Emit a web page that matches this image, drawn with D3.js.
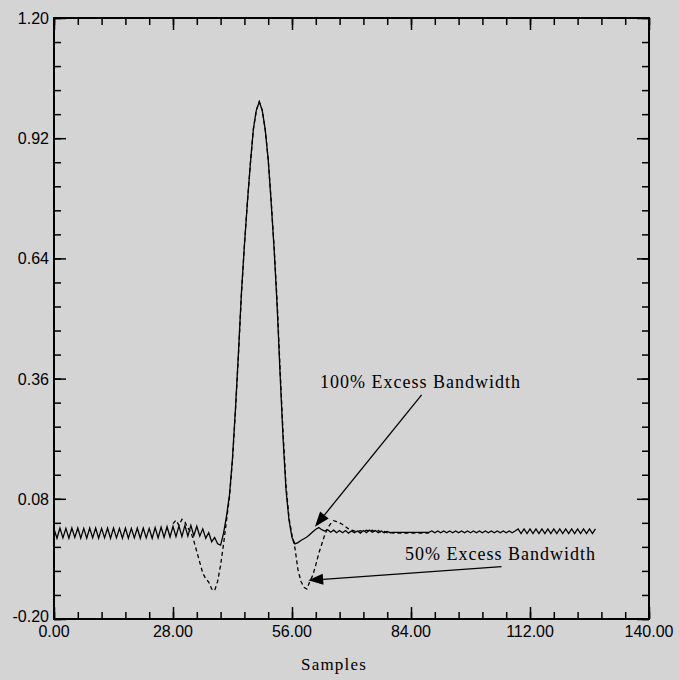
<!DOCTYPE html>
<html>
<head>
<meta charset="utf-8">
<script src="https://cdn.jsdelivr.net/npm/d3@7"></script>
<style>
  body { margin: 0; background: #d4d4d4; }
  svg { display: block; }
</style>
</head>
<body>
<svg id="chart" width="679" height="680"></svg>
<script>
// sample spacing of both traces, and where each starts
const step = 0.7;
const solidStart = 0;
const dashedStart = 28;

// 100% excess bandwidth (solid)
const solidValues = [
  0.010, -0.012, 0.012, -0.011, 0.011, -0.012, 0.012, -0.010, 0.012, -0.012,
  0.011, -0.012, 0.012, -0.011, 0.012, -0.012, 0.011, -0.011, 0.012, -0.012,
  0.012, -0.011, 0.011, -0.012, 0.012, -0.012, 0.011, -0.011, 0.012, -0.012,
  0.012, -0.011, 0.011, -0.012, 0.013, -0.011, 0.014, -0.010, 0.015, -0.009,
  0.016, -0.008, 0.017, -0.008, 0.018, -0.007, 0.018, -0.006,
  0.016, -0.007, 0.010, -0.012, 0.001, -0.020, -0.010, -0.025, -0.028, 0.000,
  0.040, 0.090, 0.175, 0.290, 0.420, 0.560, 0.670, 0.770, 0.860, 0.940,
  0.985, 1.005, 0.985, 0.940, 0.870, 0.770, 0.660, 0.530, 0.370, 0.220,
  0.100, 0.030, -0.010, -0.025, -0.022, -0.017, -0.013, -0.009, -0.003, 0.003,
  0.009, 0.013,
  0.008, 0.005, 0.008, 0.002, 0.007, 0.001, 0.006, 0.001, 0.006, 0.000,
  0.005, 0.001, 0.005, 0.000, 0.006, 0.001, 0.007, 0.002, 0.006, 0.001,
  0.005, 0.001, 0.004, 0.001,
  0.002, 0.002, 0.002, 0.002, 0.002, 0.002, 0.002, 0.002, 0.002, 0.002,
  0.002, 0.002, 0.002,
  0.005, 0.001, 0.005, 0.001, 0.005, 0.001, 0.005, 0.001, 0.005, 0.001,
  0.005, 0.001, 0.005, 0.001, 0.005, 0.001, 0.005, 0.001, 0.005, 0.001,
  0.005, 0.001, 0.005, 0.001, 0.005, 0.001, 0.005, 0.001, 0.005,
  0.010, -0.001, 0.010, -0.001, 0.010, -0.001, 0.010, -0.001, 0.010, -0.001,
  0.010, -0.001, 0.010, -0.001, 0.010, -0.001, 0.010, -0.001, 0.010, -0.001,
  0.010, -0.001, 0.010, -0.001, 0.010, -0.001, 0.010
];

// 50% excess bandwidth (dashed)
const dashedValues = [
  0.022, 0.030, 0.018, 0.032, 0.026, 0.012, 0.002, -0.018, -0.043, -0.068,
  -0.093, -0.106, -0.114, -0.130, -0.134, -0.112, -0.075, -0.025,
  0.030, 0.085, 0.170, 0.285, 0.415, 0.555, 0.670, 0.770, 0.860, 0.940,
  0.985, 1.005, 0.985, 0.940, 0.870, 0.775, 0.665, 0.540, 0.380, 0.235,
  0.110, 0.035, -0.005, -0.035, -0.085, -0.112, -0.126, -0.130, -0.112, -0.098,
  -0.074, -0.047, -0.026, -0.004, 0.012, 0.022, 0.029, 0.027, 0.024, 0.020,
  0.015, 0.010, 0.007, 0.005,
  0.004, 0.006, 0.003, 0.007, 0.004, 0.007, 0.003, 0.006, 0.002, 0.004,
  0.001, 0.002,
  0.000, 0.000, 0.000, 0.000, 0.000, 0.000, 0.000, 0.000, 0.000, 0.000,
  0.000, 0.000, 0.000
];

const xTicks = [0, 28, 56, 84, 112, 140];
const yTicks = [-0.20, 0.08, 0.36, 0.64, 0.92, 1.20];
const xMinor = d3.range(0, 140.01, 5.6);
const yMinor = d3.range(-0.2, 1.2001, 0.056);

// annotation: label anchor, arrow tail, arrow tip (data coords)
const notes = [
  { label: "100% Excess Bandwidth", at: [62.6, 0.337], from: [86.5, 0.322], to: [61.4, 0.015] },
  { label: "50% Excess Bandwidth",  at: [82.6, -0.063], from: [105.3, -0.078], to: [59.8, -0.110] }
];

const svg = d3.select("#chart");
const plotL = 54, plotR = 649, plotT = 18, plotB = 619;

const x = d3.scaleLinear().domain([0, 140]).range([plotL, plotR]);
const y = d3.scaleLinear().domain([-0.2, 1.2]).range([plotB, plotT]);

const sansFont = "'Liberation Sans', Arial, sans-serif";
const serifFont = "'Liberation Serif', 'Times New Roman', serif";

// ticks, all pointing inwards
function ticks(axis, values, size, tx, ty) {
  const g = svg.append("g")
    .attr("transform", `translate(${tx},${ty})`)
    .call(axis.tickValues(values).tickSize(size).tickFormat(""));
  g.select(".domain").remove();
  g.selectAll("line").attr("stroke", "#000").attr("stroke-width", 1.5);
  return g;
}
ticks(d3.axisBottom(x), xMinor, -7, 0, plotB);
ticks(d3.axisBottom(x), xTicks, -12, 0, plotB);
ticks(d3.axisTop(x), xMinor, -7, 0, plotT);
ticks(d3.axisTop(x), xTicks, -12, 0, plotT);
ticks(d3.axisLeft(y), yMinor, -7, plotL, 0);
ticks(d3.axisLeft(y), yTicks, -12, plotL, 0);
ticks(d3.axisRight(y), yMinor, -7, plotR, 0);
ticks(d3.axisRight(y), yTicks, -12, plotR, 0);

svg.append("rect")
  .attr("x", plotL).attr("y", plotT)
  .attr("width", plotR - plotL).attr("height", plotB - plotT)
  .attr("fill", "none").attr("stroke", "#000").attr("stroke-width", 2);

// tick labels
svg.append("g").selectAll("text").data(xTicks).join("text")
  .attr("x", d => x(d)).attr("y", plotB + 18)
  .attr("text-anchor", "middle")
  .attr("font-family", sansFont).attr("font-size", 16)
  .text(d => d.toFixed(2));

// lowest label sits a little higher so it clears the 0.00 below it
svg.append("g").selectAll("text").data(yTicks).join("text")
  .attr("x", plotL - 5).attr("y", d => y(d) + (d === -0.2 ? 3 : 6))
  .attr("text-anchor", "end")
  .attr("font-family", sansFont).attr("font-size", 16)
  .text(d => d.toFixed(2));

svg.append("text")
  .attr("x", 334).attr("y", 670)
  .attr("text-anchor", "middle")
  .attr("font-family", serifFont).attr("font-size", 17)
  .attr("letter-spacing", 1.2)
  .text("Samples");

// traces
const line = d3.line().x(d => x(d[0])).y(d => y(d[1]));
const solidPts = solidValues.map((v, i) => [solidStart + i * step, v]);
const dashedPts = dashedValues.map((v, i) => [dashedStart + i * step, v]);

svg.append("path").datum(solidPts)
  .attr("d", line).attr("fill", "none")
  .attr("stroke", "#000").attr("stroke-width", 1.3);

svg.append("path").datum(dashedPts)
  .attr("d", line).attr("fill", "none")
  .attr("stroke", "#000").attr("stroke-width", 1.3)
  .attr("stroke-dasharray", "4,3");

// annotations
notes.forEach(n => {
  svg.append("text")
    .attr("x", x(n.at[0])).attr("y", y(n.at[1]))
    .attr("font-family", serifFont).attr("font-size", 18)
    .attr("letter-spacing", 1)
    .text(n.label);

  const x1 = x(n.from[0]), y1 = y(n.from[1]);
  const x2 = x(n.to[0]), y2 = y(n.to[1]);
  const a = Math.atan2(y2 - y1, x2 - x1);
  const len = 15, half = 5.5;
  const bx = x2 - len * Math.cos(a), by = y2 - len * Math.sin(a);

  svg.append("line")
    .attr("x1", x1).attr("y1", y1).attr("x2", bx).attr("y2", by)
    .attr("stroke", "#000").attr("stroke-width", 1.3);

  svg.append("path")
    .attr("d", `M${x2},${y2}` +
      `L${bx + half * Math.sin(a)},${by - half * Math.cos(a)}` +
      `L${bx - half * Math.sin(a)},${by + half * Math.cos(a)}Z`)
    .attr("fill", "#000");
});
</script>
</body>
</html>
